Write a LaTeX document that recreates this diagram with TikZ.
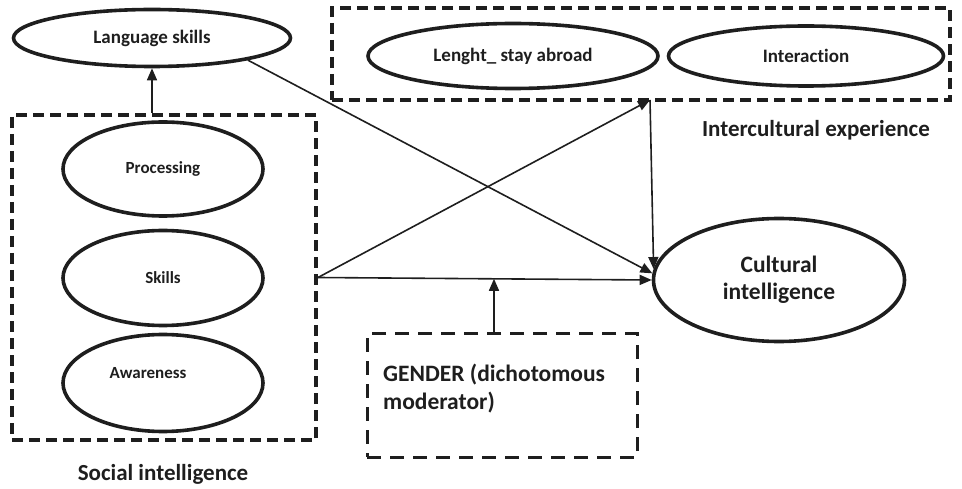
\documentclass[tikz,border=0pt]{standalone}
\usepackage{fontspec}
\setmainfont{Carlito}[Ligatures={NoCommon,NoContextual}]
\usetikzlibrary{shapes.geometric,arrows.meta}
\definecolor{ink}{HTML}{1E1E1E}
\begin{document}
\begin{tikzpicture}[x=1pt,y=-1pt,
  oval/.style={ellipse,draw=ink,line width=3.6pt,inner sep=0pt,font=\bfseries,text=ink},
  grp/.style={draw=ink,line width=4pt,dash pattern=on 11pt off 6pt,inner sep=0pt},
  grpthin/.style={draw=ink,line width=3pt,dash pattern=on 14pt off 9pt,inner sep=0pt},
  lbl/.style={font=\bfseries,text=ink,inner sep=0pt},
  conn/.style={draw=ink,line width=1.6pt,-{Triangle[length=12pt,width=10pt]}},
  ]
\useasboundingbox (0,0) rectangle (962,489);
% groups
\node[grp,minimum width=304pt,minimum height=325pt] (social) at (164,277.5) {};
\node[grp,minimum width=618pt,minimum height=92pt] (inter) at (641,54) {};
\node[grpthin,minimum width=270pt,minimum height=123pt] (gender) at (502,395.5) {};
% ellipses
\node[oval,minimum width=277pt,minimum height=57pt,font=\bfseries\fontsize{19}{23}\selectfont] (lang) at (152,38) {Language skills};
\node[oval,minimum width=290pt,minimum height=65pt,font=\bfseries\fontsize{19}{23}\selectfont] (stay) at (513,56) {Lenght\_ stay abroad};
\node[oval,minimum width=275pt,minimum height=60pt,font=\bfseries\fontsize{19}{23}\selectfont] (inta) at (806,56) {Interaction};
\node[oval,minimum width=200pt,minimum height=94pt,font=\bfseries\fontsize{17}{20}\selectfont] (proc) at (163,169) {Processing};
\node[oval,minimum width=200pt,minimum height=95pt,font=\bfseries\fontsize{17}{20}\selectfont] (skills) at (163,278) {Skills};
\node[oval,minimum width=200pt,minimum height=97pt] (aware) at (163,383) {};
\node[lbl,font=\bfseries\fontsize{17}{20}\selectfont] (awaretxt) at (148,373) {Awareness};
\node[oval,minimum width=251pt,minimum height=123pt,align=center,font=\bfseries\fontsize{23.5}{27}\selectfont] (cult) at (779,280) {Cultural\\intelligence};
% labels
\node[lbl,font=\bfseries\fontsize{23}{27}\selectfont] (sociallbl) at (163,474) {Social intelligence};
\node[lbl,font=\bfseries\fontsize{23}{27}\selectfont] (interlbl) at (816,130) {Intercultural experience};
\node[lbl,anchor=west,align=left,font=\bfseries\fontsize{23.5}{28}\selectfont] (gendertxt) at (383,389) {GENDER (dichotomous\\moderator)};
% connectors
\coordinate (ib) at (650,100);
\coordinate (gm) at (494,278.8);
\draw[conn] (lang.south |- social.north) -- (lang.south);
\draw[conn] (social.east) -- (cult.west);
\draw[conn] (social.east) -- (ib);
\draw[conn] (ib) -- (cult.175);
\draw[conn] (lang.-13) -- (cult.177);
\draw[conn] (gm |- gender.north) -- (gm);
\end{tikzpicture}
\end{document}
